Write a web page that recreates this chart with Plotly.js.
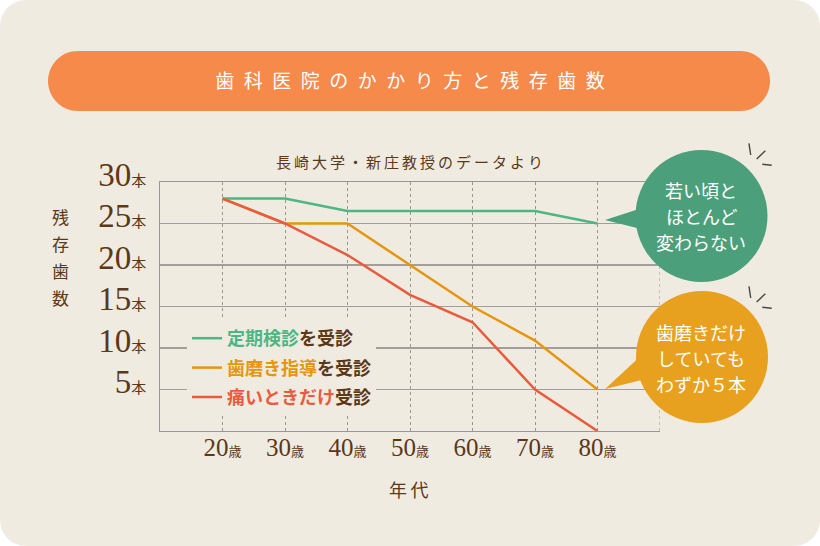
<!DOCTYPE html>
<html>
<head>
<meta charset="utf-8">
<script src="https://cdn.plot.ly/plotly-3.0.1.min.js"></script>
<style>
  html, body { margin: 0; padding: 0; background: #ffffff; }
  #chart { width: 820px; height: 546px; border-radius: 26px; background: #f0ebe1; overflow: hidden; }
</style>
</head>
<body>
<div id="chart"></div>
<script>
// ---- data ----
const years = [20, 30, 40, 50, 60, 70, 80];
const checkup = [28, 28, 26.5, 26.5, 26.5, 26.5, 25];
const brushing = [28, 25, 25, 20, 15, 10.9, 5];
const painOnly = [28, 25, 21.2, 16.4, 13.1, 5, 0];
const yTickVals = [5, 10, 15, 20, 25, 30];
const yTickUnit = '本';
const xTickUnit = '歳';
const seriesNames = [
  ['定期検診', 'を受診'],
  ['歯磨き指導', 'を受診'],
  ['痛いときだけ', '受診']
];
const titleText = '歯科医院のかかり方と残存歯数';
const subtitleText = '長崎大学・新庄教授のデータより';
const yTitleChars = ['残', '存', '歯', '数'];
const xTitleText = '年代';
const greenBubbleLines = ['若い頃と', 'ほとんど', '変わらない'];
const orangeBubbleLines = ['歯磨きだけ', 'していても', 'わずか５本'];

// ---- styles ----
const BG = '#f0ebe1';
const BROWN = '#5b3817';
const C_GREEN = '#4db683';
const C_ORANGE = '#e5960e';
const C_RED = '#e95b3d';
const B_GREEN = '#4c9f7b';
const B_ORANGE = '#e8a11f';
const BANNER = '#f58a4b';
const JP = 'Noto Sans CJK JP';
const SERIF = 'Liberation Serif, DejaVu Serif, serif';

// plot area pixels
const PL = 160, PR = 660, PT = 182, PB = 431;
const px = x => (x - PL) / (PR - PL);
const py = y => (PB - y) / (PB - PT);
const P = (x, y) => px(x).toFixed(4) + ',' + py(y).toFixed(4);

const colors = [C_GREEN, C_ORANGE, C_RED];
const values = [checkup, brushing, painOnly];
const traces = values.map((v, i) => ({
  type: 'scatter', mode: 'lines', x: years, y: v,
  line: { color: colors[i], width: 2.5 },
  name: '<b><span style="color:' + colors[i] + '">' + seriesNames[i][0] + '</span>' + seriesNames[i][1] + '</b>',
  legendgroup: 'g' + i,
  hoverinfo: 'skip'
}));

const yTickText = yTickVals.map(v => v + '<span style="font-size:15px;font-family:Noto Sans CJK JP">' + yTickUnit + '</span>');
const xTickText = years.map(v => v + '<span style="font-size:13px;font-family:Noto Sans CJK JP">' + xTickUnit + '</span>');

function pill(x0, y0, x1, y1) {
  const r = (y1 - y0) / 2, k = 0.5523 * r;
  return 'M' + P(x0 + r, y0) + ' L' + P(x1 - r, y0) +
    ' C' + P(x1 - r + k, y0) + ' ' + P(x1, y0 + r - k) + ' ' + P(x1, y0 + r) +
    ' C' + P(x1, y0 + r + k) + ' ' + P(x1 - r + k, y1) + ' ' + P(x1 - r, y1) +
    ' L' + P(x0 + r, y1) +
    ' C' + P(x0 + r - k, y1) + ' ' + P(x0, y0 + r + k) + ' ' + P(x0, y0 + r) +
    ' C' + P(x0, y0 + r - k) + ' ' + P(x0 + r - k, y0) + ' ' + P(x0 + r, y0) + ' Z';
}

const shapes = [];
// banner
shapes.push({ type: 'path', xref: 'paper', yref: 'paper', path: pill(48, 51, 770, 111),
  fillcolor: BANNER, line: { width: 0 }, layer: 'below' });
// right dashed border at 90
shapes.push({ type: 'line', xref: 'x', yref: 'paper', x0: 90, x1: 90, y0: 0, y1: 1,
  line: { color: '#9a9691', width: 1, dash: '3px,3px' }, layer: 'below' });

function bubble(cx, cy, r, tipX, tipY, b1, b2, color) {
  shapes.push({ type: 'path', xref: 'paper', yref: 'paper',
    path: 'M' + P(tipX, tipY) + ' L' + P(b1[0], b1[1]) + ' L' + P(b2[0], b2[1]) + ' Z',
    fillcolor: color, line: { width: 0 }, layer: 'above' });
  shapes.push({ type: 'circle', xref: 'paper', yref: 'paper',
    x0: px(cx - r), x1: px(cx + r), y0: py(cy + r), y1: py(cy - r),
    fillcolor: color, line: { width: 0 }, layer: 'above' });
}
bubble(701.5, 216, 66, 605, 220, [642, 208], [645, 230], B_GREEN);
bubble(702, 357, 66, 605, 389, [645, 352], [650, 378], B_ORANGE);

function sparks(dy) {
  const segs = [[749, 143.3, 750.7, 155], [756.7, 159, 765.3, 150.7], [762.3, 164.3, 771.7, 165.3]];
  segs.forEach(s => shapes.push({ type: 'line', xref: 'paper', yref: 'paper',
    x0: px(s[0]), y0: py(s[1] + dy), x1: px(s[2]), y1: py(s[3] + dy),
    line: { color: '#4a4540', width: 1.4 }, layer: 'above' }));
}
sparks(0);
sparks(143);

const annotations = [];
annotations.push({ xref: 'paper', yref: 'paper', x: px(409), y: py(162), text: subtitleText.split('').join('\u2009'),
  showarrow: false, font: { family: JP, size: 15, color: BROWN }, xanchor: 'center', yanchor: 'middle' });
yTitleChars.forEach((c, i) => annotations.push({ xref: 'paper', yref: 'paper', x: px(60), y: py(216 + i * 27),
  text: c, showarrow: false, font: { family: JP, size: 17, color: BROWN }, xanchor: 'center', yanchor: 'middle' }));
annotations.push({ xref: 'paper', yref: 'paper', x: px(409), y: py(489), text: xTitleText.split('').join('\u2009'),
  showarrow: false, font: { family: JP, size: 18, color: BROWN }, xanchor: 'center', yanchor: 'middle' });
greenBubbleLines.forEach((t, i) => annotations.push({ xref: 'paper', yref: 'paper', x: px(701), y: py(190 + i * 26),
  text: t, showarrow: false, font: { family: JP, size: 18, color: '#ffffff' }, xanchor: 'center', yanchor: 'middle' }));
orangeBubbleLines.forEach((t, i) => annotations.push({ xref: 'paper', yref: 'paper', x: px(701), y: py(332 + i * 26),
  text: t, showarrow: false, font: { family: JP, size: 18, color: '#ffffff' }, xanchor: 'center', yanchor: 'middle' }));

const layout = {
  width: 820, height: 546,
  margin: { l: PL, r: 820 - PR, t: PT, b: 546 - PB, pad: 0 },
  paper_bgcolor: 'rgba(0,0,0,0)', plot_bgcolor: 'rgba(0,0,0,0)',
  title: { text: titleText.split('').join('\u2002'), x: 0.5, xref: 'container', y: 1 - 81 / 546, yref: 'container',
    xanchor: 'center', yanchor: 'middle', font: { family: JP, size: 19, color: '#ffffff' } },
  xaxis: {
    range: [10, 90], tickvals: years, ticktext: xTickText, showgrid: true, gridcolor: '#9a9691', griddash: '3px,3px',
    gridwidth: 1, zeroline: false, showline: true, linecolor: '#9a9691', linewidth: 1.2, mirror: true,
    ticks: '', ticklen: 0, ticklabelstandoff: -6, tickfont: { family: SERIF, size: 25, color: BROWN }, fixedrange: true
  },
  yaxis: {
    range: [0, 30], tickvals: yTickVals, ticktext: yTickText, showgrid: true, gridcolor: '#a29e99', gridwidth: 1.2,
    zeroline: false, showline: true, linecolor: '#9a9691', linewidth: 1.2, mirror: false,
    ticks: '', ticklen: 0, ticklabelstandoff: 6, ticklabelshift: -8, tickfont: { family: SERIF, size: 33, color: BROWN }, fixedrange: true
  },
  showlegend: true,
  legend: {
    x: px(187), y: py(320), xanchor: 'left', yanchor: 'top', bgcolor: BG, borderwidth: 0,
    font: { family: JP, size: 18, color: BROWN }, traceorder: 'grouped', tracegroupgap: 3, itemclick: false, itemdoubleclick: false
  },
  shapes: shapes,
  annotations: annotations
};

Plotly.newPlot('chart', traces, layout, { displayModeBar: false, staticPlot: true });
</script>
</body>
</html>
